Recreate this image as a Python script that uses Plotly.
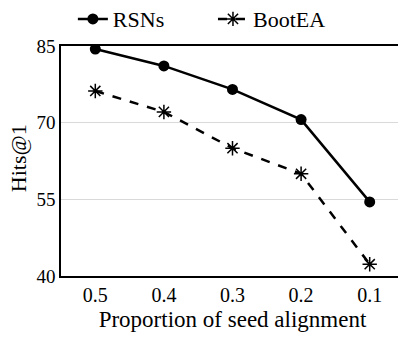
import plotly.graph_objects as go

categories = ["0.5", "0.4", "0.3", "0.2", "0.1"]
rsns = [84.4, 81.1, 76.5, 70.6, 54.5]
bootea = [76.2, 72.1, 65.0, 60.0, 42.3]
y_ticks = [40, 55, 70, 85]
y_title = "Hits@1"
x_title = "Proportion of seed alignment"

font_family = "Liberation Serif"

fig = go.Figure()
fig.add_trace(go.Scatter(
    x=categories, y=rsns, name="RSNs", mode="lines+markers",
    line=dict(color="black", width=2.5),
    marker=dict(symbol="circle", size=11, color="black"),
    legend="legend", showlegend=True,
))
fig.add_trace(go.Scatter(
    x=categories, y=bootea, name="BootEA", mode="lines+markers",
    line=dict(color="black", width=2.5, dash="dash"),
    marker=dict(symbol="asterisk-open", size=12, color="black",
                line=dict(color="black", width=1.5)),
    legend="legend2", showlegend=True,
))

legend_common = dict(orientation="h", xanchor="left", xref="container",
                     y=1.117, yanchor="middle", yref="paper",
                     font=dict(size=22, family=font_family),
                     itemwidth=30, bgcolor="rgba(0,0,0,0)", visible=True)

# page body has an 8px default margin, so the figure is sized to fit the window
fig.update_layout(
    width=398, height=332,
    margin=dict(l=53, r=2, t=38, b=64, autoexpand=False),
    paper_bgcolor="white", plot_bgcolor="white",
    font=dict(family=font_family, color="black", size=19),
    showlegend=True,
    legend=dict(x=0.163, **legend_common),
    legend2=dict(x=0.515, **legend_common),
    xaxis=dict(
        type="category", range=[-0.5, 4.5],
        showline=True, linecolor="black", linewidth=1.5, mirror=True,
        showgrid=False, ticks="", tickfont=dict(size=20, family=font_family),
        title=dict(text=x_title, font=dict(size=23, family=font_family), standoff=6),
    ),
    yaxis=dict(
        range=[40, 85], tickvals=y_ticks,
        showline=True, linecolor="black", linewidth=1.5, mirror=True,
        showgrid=True, gridcolor="#d9d9d9", gridwidth=1,
        ticks="", tickfont=dict(size=19, family=font_family), zeroline=False,
    ),
    annotations=[dict(
        text=y_title, textangle=-90, showarrow=False,
        xref="paper", yref="paper", x=-0.125, y=0.513,
        xanchor="center", yanchor="middle",
        font=dict(size=22, family=font_family, color="black"),
    )],
)

fig.write_html("out.html", config={"displayModeBar": False})
